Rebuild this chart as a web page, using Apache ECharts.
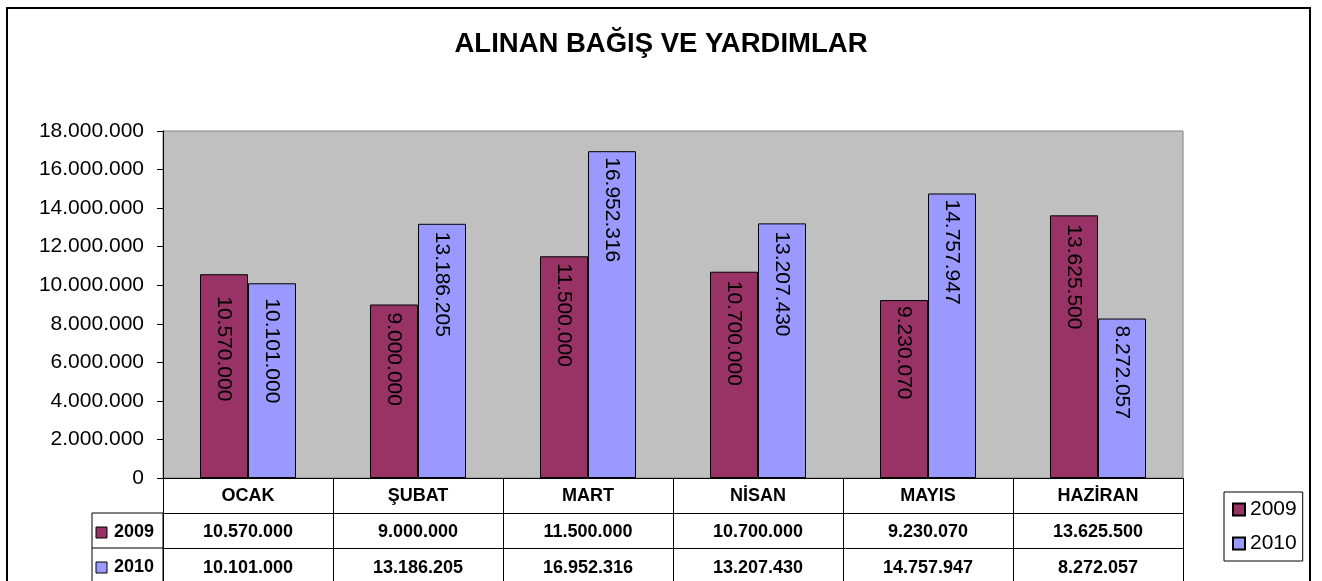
<!DOCTYPE html>
<html>
<head>
<meta charset="utf-8">
<script src="https://cdn.jsdelivr.net/npm/echarts@6/dist/echarts.min.js"></script>
<style>
html,body{margin:0;padding:0;background:#fff;}
#c{width:1322px;height:581px;}
</style>
</head>
<body>
<div id="c"></div>
<script>
var categories = ['OCAK', 'ŞUBAT', 'MART', 'NİSAN', 'MAYIS', 'HAZİRAN'];
var seriesNames = ['2009', '2010'];
var values2009 = [10570000, 9000000, 11500000, 10700000, 9230070, 13625500];
var values2010 = [10101000, 13186205, 16952316, 13207430, 14757947, 8272057];
var yTicks = [0, 2000000, 4000000, 6000000, 8000000, 10000000, 12000000, 14000000, 16000000, 18000000];

var FONT = "'Liberation Sans', Arial, sans-serif";
var C2009 = '#993366', C2010 = '#9999FF';

function fmt(v) { return String(v).replace(/\B(?=(\d{3})+(?!\d))/g, '.'); }

// label offsets (style): OCAK labels sit lower in the reference
var labelDist2009 = [22, 8, 7, 9, 6, 9];
var labelDist2010 = [15, 8, 6, 8, 6, 7];

function barData(vals, dists) {
  return vals.map(function (v, i) {
    return { value: v, label: { distance: dists[i] } };
  });
}

var labelBase = {
  show: true,
  position: 'insideTop',
  rotate: -90,
  align: 'left',
  verticalAlign: 'middle',
  color: '#000',
  fontSize: 21,
  fontFamily: FONT,
  formatter: function (p) { return fmt(p.value); }
};

var tableAxisCommon = {
  type: 'category',
  data: categories,
  position: 'bottom',
  boundaryGap: true,
  axisLine: { show: true, lineStyle: { color: '#000', width: 1 } },
  axisTick: { show: true, interval: 0, length: 35, lineStyle: { color: '#000', width: 1 } },
  splitLine: { show: false }
};

var chart = echarts.init(document.getElementById('c'), null, { renderer: 'canvas' });

var option = {
  backgroundColor: '#fff',
  animation: false,
  title: {
    text: 'ALINAN BAĞIŞ VE YARDIMLAR',
    left: 'center',
    top: 30,
    padding: 0,
    textStyle: { fontSize: 27.5, fontWeight: 'bold', color: '#000', fontFamily: FONT }
  },
  legend: {
    orient: 'vertical',
    left: 1224,
    top: 492,
    data: seriesNames,
    icon: 'rect',
    itemWidth: 12,
    itemHeight: 12,
    itemGap: 13,
    padding: [7, 6, 7, 8],
    borderColor: '#000',
    borderWidth: 1,
    backgroundColor: '#fff',
    textStyle: { fontSize: 21, color: '#000', fontFamily: FONT }
  },
  grid: {
    left: 163, top: 131, right: 139, bottom: 103,
    show: true,
    backgroundColor: '#C0C0C0',
    borderColor: '#808080',
    borderWidth: 1
  },
  xAxis: [
    Object.assign({}, tableAxisCommon, {
      axisLabel: { interval: 0, margin: 9, color: '#000', fontSize: 18, fontWeight: 'bold', fontFamily: FONT }
    }),
    Object.assign({}, tableAxisCommon, {
      offset: 35,
      axisLabel: {
        interval: 0, margin: 10, color: '#000', fontSize: 18, fontWeight: 'bold', fontFamily: FONT,
        formatter: function (v, i) { return fmt(values2009[i]); }
      }
    }),
    Object.assign({}, tableAxisCommon, {
      offset: 70,
      axisTick: { show: true, interval: 0, length: 40, lineStyle: { color: '#000', width: 1 } },
      axisLabel: {
        interval: 0, margin: 11, color: '#000', fontSize: 18, fontWeight: 'bold', fontFamily: FONT,
        formatter: function (v, i) { return fmt(values2010[i]); }
      }
    })
  ],
  yAxis: {
    type: 'value',
    min: yTicks[0],
    max: yTicks[yTicks.length - 1],
    interval: yTicks[1] - yTicks[0],
    axisLine: { show: true, lineStyle: { color: '#000', width: 1 } },
    axisTick: { show: true, length: 6, lineStyle: { color: '#000', width: 1 } },
    splitLine: { show: false },
    axisLabel: {
      margin: 19, color: '#000', fontSize: 21, fontFamily: FONT,
      formatter: function (v) { return fmt(v); }
    }
  },
  series: [
    {
      name: seriesNames[0],
      type: 'bar',
      xAxisIndex: 0,
      barWidth: 48,
      barGap: '0%',
      itemStyle: { color: C2009, borderColor: '#000', borderWidth: 1 },
      label: labelBase,
      data: barData(values2009, labelDist2009)
    },
    {
      name: seriesNames[1],
      type: 'bar',
      xAxisIndex: 0,
      barWidth: 48,
      barGap: '0%',
      itemStyle: { color: C2010, borderColor: '#000', borderWidth: 1 },
      label: labelBase,
      data: barData(values2010, labelDist2010)
    }
  ],
  graphic: [
    { type: 'rect', shape: { x: 7, y: 8, width: 1303, height: 600 }, style: { fill: 'none', stroke: '#000', lineWidth: 2 }, silent: true, z: 100 },
    { type: 'rect', shape: { x: 92, y: 513, width: 71, height: 80 }, style: { fill: '#fff', stroke: '#000', lineWidth: 1 }, silent: true },
    { type: 'line', shape: { x1: 92, y1: 548, x2: 163, y2: 548 }, style: { stroke: '#000', lineWidth: 1 }, silent: true },
    { type: 'rect', shape: { x: 96, y: 527, width: 11, height: 11 }, style: { fill: C2009, stroke: '#000', lineWidth: 1 }, silent: true },
    { type: 'text', x: 114, y: 532, style: { text: seriesNames[0], fill: '#000', font: 'bold 18px ' + FONT, verticalAlign: 'middle', align: 'left' }, silent: true },
    { type: 'rect', shape: { x: 96, y: 562, width: 11, height: 11 }, style: { fill: C2010, stroke: '#000', lineWidth: 1 }, silent: true },
    { type: 'text', x: 114, y: 567, style: { text: seriesNames[1], fill: '#000', font: 'bold 18px ' + FONT, verticalAlign: 'middle', align: 'left' }, silent: true }
  ]
};

chart.setOption(option);
</script>
</body>
</html>
